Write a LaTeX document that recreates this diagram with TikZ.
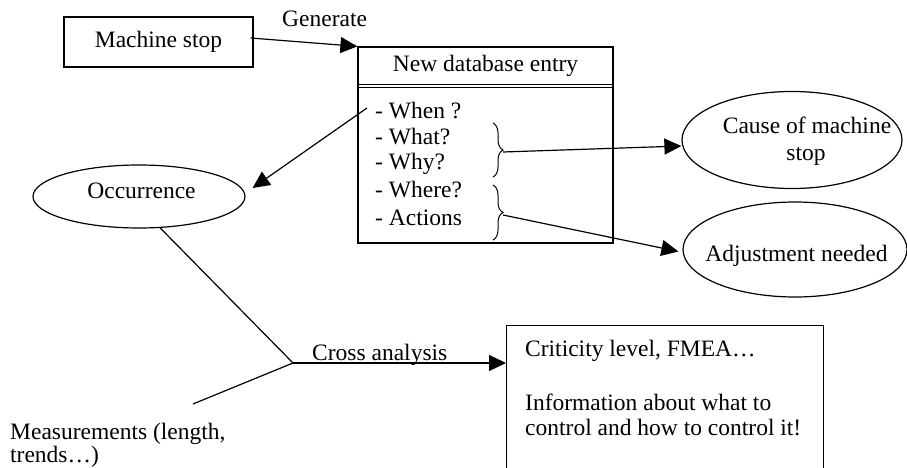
\documentclass[tikz,border=0pt]{standalone}
\usepackage{fontspec}
\setmainfont{Liberation Serif}
\usetikzlibrary{arrows.meta,shapes.geometric,decorations.pathreplacing,calc}
\newcommand\tx{\fontsize{23.5}{27}\selectfont}
\tikzset{
  txt/.style={inner sep=0pt, font=\tx, anchor=base west},
  ctxt/.style={inner sep=0pt, font=\tx, anchor=base},
  box/.style={draw, line width=1.2pt, rectangle, inner sep=0pt},
  ell/.style={draw, line width=1.2pt, ellipse, inner sep=0pt},
  conn/.style={line width=1.2pt},
  arr/.style={conn, -{Triangle[length=17pt,width=16pt]}},
  brc/.style={decorate, decoration={brace, amplitude=10pt}, line width=1pt}
}
\begin{document}
\begin{tikzpicture}[x=1pt,y=-1pt]
\useasboundingbox (0,0) rectangle (907,468);
\clip (0,0) rectangle (907,468);

% Machine stop
\node[box, minimum width=189pt, minimum height=50pt, font=\tx] (ms) at (158.5,42) {Machine stop};
\node[txt] (gen) at (282,27) {Generate};

% Database entry box
\node[box, minimum width=255pt, minimum height=196pt] (db) at (485.5,145) {};
\node[ctxt] (dbh) at (485.5,72) {New database entry};
\draw[line width=1pt] ($(db.north west)+(0,38)$) -- ($(db.north east)+(0,38)$);
\draw[line width=1pt] ($(db.north west)+(0,41)$) -- ($(db.north east)+(0,41)$);

\node[txt] (when) at (375,118) {- When ?};
\node[txt] (what) at (375,144) {- What?};
\node[txt] (why) at (375,169) {- Why?};
\node[txt] (where) at (375,197) {- Where?};
\node[txt] (actions) at (375,225) {- Actions};

\draw[brc] (493,123) -- (493,177);
\draw[brc] (493,185) -- (493,240);
\coordinate (b1) at (503,152);
\coordinate (b2) at (503,215);
\coordinate (ws) at (367,108);

% Ellipses
\node[ell, minimum width=220pt, minimum height=97pt] (cause) at (792,140) {};
\node[ctxt] (causet1) at (807,133) {Cause of machine};
\node[ctxt] (causet2) at (806,160) {stop};

\node[ell, minimum width=224pt, minimum height=95pt] (adj) at (795,249.5) {};
\node[ctxt] (adjt) at (796.5,261) {Adjustment needed};

\node[ell, minimum width=212pt, minimum height=63pt] (occ) at (139,196.5) {};
\node[ctxt] (occt) at (141.5,198) {Occurrence};

% Criticity box
\node[box, minimum width=317pt, minimum height=180pt, anchor=north west] (crit) at (506,325) {};
\node[txt] (c1) at (525,356) {Criticity level, FMEA…};
\node[txt] (c2) at (525,410) {Information about what to};
\node[txt] (c3) at (525,435) {control and how to control it!};

% Measurements
\node[txt] (m1) at (10,439) {Measurements (length,};
\node[txt] (m2) at (10,462) {trends…)};
\coordinate (mst) at (193,404);
\coordinate (j) at (293,363);
\node[txt] (cross) at (312,360) {Cross analysis};

% Connectors
\draw[arr] ([xshift=-3pt,yshift=4pt]ms.east) -- (db.north west);
\draw[arr] (b1) -- ([yshift=-6pt]cause.west);
\draw[arr] (b2) -- ([xshift=-4pt,yshift=-2pt]adj.west);
\draw[arr] (ws) -- ([shift={(7,-8.5)}]occ.east);
\draw[conn] (occ.-56) -- (j);
\draw[conn] (mst) -- (j);
\draw[arr] (j) -- (crit.west |- j);
\end{tikzpicture}
\end{document}
